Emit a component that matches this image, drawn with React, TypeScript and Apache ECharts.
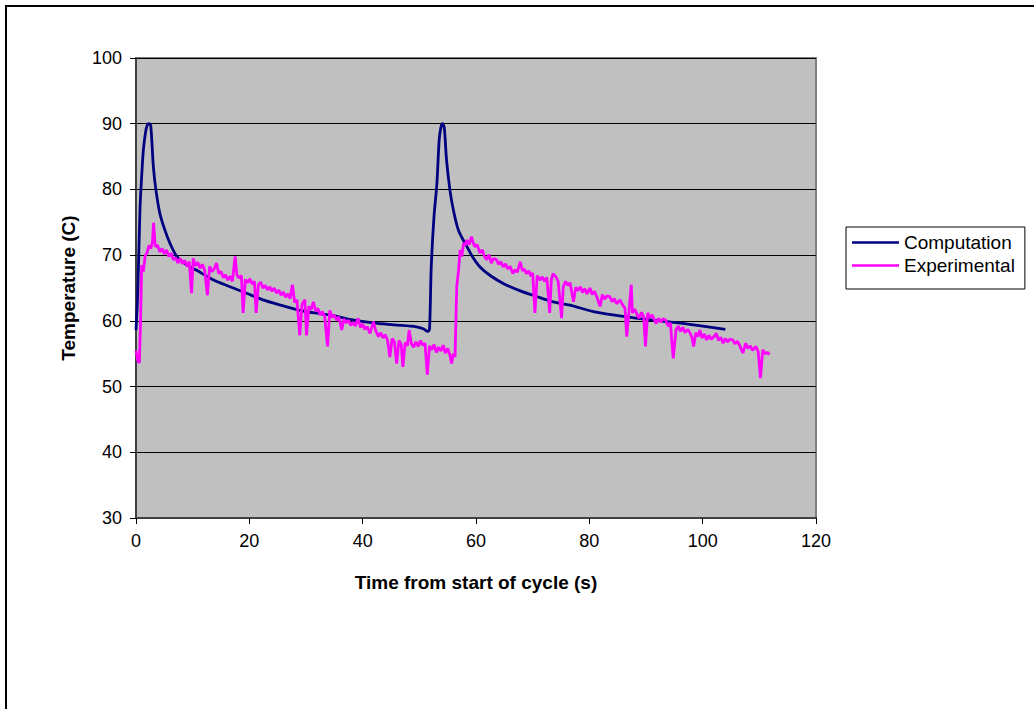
import React, { useEffect, useRef } from "react";
import * as echarts from "echarts";

const seriesNames = ["Computation", "Experimental"];
const xTicks = { min: 0, max: 120, interval: 20 };
const yTicks = { min: 30, max: 100, interval: 10 };

// Computation: [time (s), temperature (C)]
const computation: [number, number][] = [
  [0, 58.6], [0.3, 64], [0.7, 76.9], [1.0, 82], [1.3, 86], [1.7, 88.8], [2.0, 89.8],
  [2.3, 90.0], [2.6, 89.7], [3.06, 83.5], [3.5, 80], [4.2, 76.4], [5.1, 73.8], [6.0, 71.8],
  [7.2, 69.8], [8.8, 68.6], [10.7, 67.7], [13.5, 66.3], [16.6, 65.2], [19.5, 64.2],
  [22.4, 63.2], [25.5, 62.4], [28.9, 61.6], [31.5, 61.2], [34.2, 60.9], [38, 60.2],
  [41.8, 59.7], [45.5, 59.4], [49.5, 59.1], [50.7, 58.8], [51.5, 58.4], [51.8, 58.8],
  [52.1, 68.2], [52.6, 76], [53.1, 80.9], [53.5, 87.5], [53.8, 89.4], [54.1, 90],
  [54.4, 89.4], [54.8, 84.5], [55.4, 79.9], [56.0, 76.9], [56.9, 73.8], [58.4, 71.3],
  [59.5, 69.6], [60.7, 68.2], [62.5, 66.9], [64.8, 65.7], [67.7, 64.6], [70.7, 63.7],
  [73.6, 62.9], [76.6, 62.4], [80.7, 61.4], [86.6, 60.6], [92.5, 60.0], [98.4, 59.4],
  [104, 58.7],
];

// Experimental: [time (s), temperature (C)]
const experimental: [number, number][] = [
  [0.0, 55.5], [0.3, 54.0], [0.6, 53.6], [0.8, 60.0], [1.0, 68.5], [1.3, 67.5], [1.6, 69.8],
  [2.0, 70.5], [2.3, 71.5], [2.6, 71.0], [2.9, 72.0], [3.1, 74.9], [3.4, 71.3], [3.8, 71.5],
  [4.2, 70.5], [4.6, 71.0], [5.0, 70.2], [5.4, 70.8], [5.8, 69.8], [6.2, 70.3], [6.6, 69.3],
  [7.0, 69.6], [7.4, 68.8], [7.8, 69.5], [8.2, 68.7], [8.6, 69.2], [9.0, 68.3], [9.4, 69.0],
  [9.8, 64.2], [10.1, 69.5], [10.5, 68.4], [10.9, 68.9], [11.3, 68.0], [11.7, 68.6],
  [12.1, 67.8], [12.6, 63.9], [13.0, 68.3], [13.4, 67.5], [13.8, 67.9], [14.2, 68.8],
  [14.6, 67.2], [15.0, 67.5], [15.4, 66.6], [15.8, 67.0], [16.2, 66.2], [16.6, 66.8],
  [17.0, 66.0], [17.5, 69.8], [17.8, 67.0], [18.2, 66.5], [18.6, 66.9], [18.9, 61.2],
  [19.3, 66.3], [19.7, 65.8], [20.1, 66.4], [20.5, 65.6], [20.9, 66.0], [21.2, 61.2],
  [21.6, 65.5], [22.0, 65.9], [22.4, 65.0], [22.8, 65.4], [23.2, 64.7], [23.6, 65.2],
  [24.0, 64.5], [24.4, 65.0], [24.8, 64.2], [25.2, 64.7], [25.6, 63.9], [26.0, 64.4],
  [26.4, 63.6], [26.8, 64.1], [27.2, 63.4], [27.6, 65.5], [28.0, 62.8], [28.4, 63.2],
  [28.9, 57.8], [29.3, 62.5], [29.8, 63.2], [30.1, 57.8], [30.5, 62.2], [30.9, 61.7],
  [31.3, 62.9], [31.7, 61.5], [32.1, 61.9], [32.5, 60.9], [32.9, 61.4], [33.3, 60.7],
  [33.8, 56.1], [34.2, 61.6], [34.6, 60.5], [35.0, 60.9], [35.4, 60.1], [35.8, 60.6],
  [36.3, 58.6], [36.7, 60.3], [37.1, 59.7], [37.5, 60.1], [37.9, 59.3], [38.3, 59.8],
  [38.7, 59.2], [39.2, 60.4], [39.6, 59.0], [40.0, 59.5], [40.4, 58.7], [40.8, 59.1],
  [41.3, 58.1], [41.9, 59.9], [42.3, 58.5], [42.8, 57.6], [43.2, 58.2], [43.6, 57.4],
  [44.0, 57.9], [44.4, 57.0], [44.8, 54.5], [45.2, 57.3], [45.6, 56.8], [46.0, 53.5],
  [46.4, 57.0], [46.8, 56.4], [47.1, 53.0], [47.5, 56.7], [47.9, 56.2], [48.2, 58.6],
  [48.6, 56.5], [49.0, 56.0], [49.4, 56.8], [49.8, 56.1], [50.2, 57.0], [50.6, 56.3],
  [51.0, 56.6], [51.4, 51.8], [51.8, 56.2], [52.2, 55.6], [52.6, 56.4], [53.0, 55.2],
  [53.4, 56.0], [53.8, 55.4], [54.2, 56.3], [54.6, 55.1], [55.0, 55.8], [55.4, 54.8],
  [55.7, 53.5], [56.0, 55.0], [56.3, 54.5], [56.6, 65.2], [56.9, 67.5], [57.2, 70.8],
  [57.5, 69.8], [57.8, 71.8], [58.1, 71.5], [58.4, 72.3], [58.8, 71.6], [59.2, 72.8],
  [59.5, 71.9], [59.8, 71.3], [60.2, 71.6], [60.7, 70.3], [61.1, 70.8], [61.5, 69.8],
  [61.9, 69.3], [62.3, 70.1], [62.7, 68.8], [63.1, 69.5], [63.6, 69.3], [64.0, 68.6],
  [64.4, 69.0], [64.8, 68.2], [65.2, 68.7], [65.6, 67.9], [66.0, 68.3], [66.5, 67.2],
  [66.9, 67.8], [67.3, 67.4], [67.8, 69.0], [68.2, 67.6], [68.5, 67.9], [68.9, 67.2],
  [69.3, 67.6], [69.7, 66.8], [70.0, 67.3], [70.4, 61.2], [70.8, 66.9], [71.3, 66.2],
  [71.7, 66.7], [72.1, 66.0], [72.5, 66.6], [73.0, 61.2], [73.3, 66.3], [73.6, 67.2],
  [74.1, 66.7], [74.5, 66.0], [75.1, 60.4], [75.4, 65.2], [75.8, 66.0], [76.2, 65.4],
  [76.6, 65.8], [77.2, 62.9], [77.6, 65.1], [78.0, 64.6], [78.4, 65.2], [78.8, 64.3],
  [79.2, 64.9], [79.6, 64.1], [80.1, 65.0], [80.5, 64.0], [80.9, 64.5], [81.3, 63.7],
  [81.9, 62.2], [82.3, 64.0], [82.7, 63.3], [83.1, 63.8], [83.6, 63.7], [84.0, 62.9],
  [84.4, 63.4], [84.8, 62.6], [85.4, 63.2], [85.8, 62.5], [86.3, 61.9], [86.6, 57.6],
  [87.0, 61.5], [87.4, 65.5], [87.6, 61.2], [88.0, 61.8], [88.4, 61.0], [88.8, 60.4],
  [89.2, 61.3], [89.6, 60.6], [89.9, 56.1], [90.3, 61.2], [90.7, 60.5], [91.1, 60.9],
  [91.5, 60.1], [91.8, 59.6], [92.2, 60.4], [92.6, 59.8], [93.0, 60.3], [93.5, 60.1],
  [93.9, 59.2], [94.3, 59.7], [94.8, 54.3], [95.3, 58.6], [95.7, 59.2], [96.1, 58.4],
  [96.5, 59.0], [96.9, 58.2], [97.4, 58.7], [97.8, 58.1], [98.1, 57.5], [98.4, 56.1],
  [98.8, 58.2], [99.2, 57.6], [99.5, 58.6], [99.9, 57.4], [100.3, 58.0], [100.7, 57.1],
  [101.1, 57.8], [101.5, 57.2], [102.0, 57.6], [102.4, 58.1], [102.8, 57.0], [103.2, 57.5],
  [103.6, 56.6], [104.0, 57.3], [104.4, 56.8], [104.8, 57.2], [105.3, 57.1], [105.7, 56.5],
  [106.1, 56.9], [106.5, 56.3], [107.1, 55.1], [107.6, 56.6], [108.0, 55.8], [108.4, 56.2],
  [108.8, 55.5], [109.4, 56.1], [109.8, 55.3], [110.2, 51.3], [110.6, 55.6], [111.0, 55.0],
  [111.4, 55.2], [111.8, 54.9],
];

const FONT = "'Liberation Sans', Arial, Helvetica, sans-serif";

export default function App() {
  const ref = useRef<HTMLDivElement>(null);
  useEffect(() => {
    document.body.style.margin = "0";
    const chart = echarts.init(ref.current!, undefined, { renderer: "svg" });
    chart.setOption({
      animation: false,
      backgroundColor: "#ffffff",
      textStyle: { fontFamily: FONT, color: "#000" },
      graphic: [
        {
          type: "rect",
          shape: { x: 6, y: 6, width: 1200, height: 900 },
          style: { fill: "none", stroke: "#000", lineWidth: 2 },
          silent: true,
        },
      ],
      grid: {
        left: 136,
        top: 58,
        width: 680,
        height: 460,
        show: true,
        backgroundColor: "#C0C0C0",
        borderColor: "#808080",
        borderWidth: 2,
      },
      legend: {
        orient: "vertical",
        left: 846,
        top: 227,
        icon: "rect",
        itemWidth: 47,
        itemHeight: 2.5,
        itemGap: 4,
        padding: [6, 10, 14, 6],
        borderColor: "#000",
        borderWidth: 1,
        backgroundColor: "#fff",
        textStyle: { fontFamily: FONT, fontSize: 19, color: "#000", lineHeight: 19 },
        data: seriesNames,
      },
      xAxis: {
        type: "value",
        min: xTicks.min,
        max: xTicks.max,
        interval: xTicks.interval,
        name: "Time from start of cycle (s)",
        nameLocation: "middle",
        nameGap: 55,
        nameTextStyle: { fontFamily: FONT, fontSize: 19, fontWeight: "bold", color: "#000" },
        axisLine: { show: true, onZero: false, lineStyle: { color: "#404040", width: 2 } },
        axisTick: { show: true, length: 6, lineStyle: { color: "#000", width: 1 } },
        axisLabel: { fontFamily: FONT, fontSize: 18, color: "#000", margin: 14 },
        splitLine: { show: false },
      },
      yAxis: {
        type: "value",
        min: yTicks.min,
        max: yTicks.max,
        interval: yTicks.interval,
        name: "Temperature (C)",
        nameLocation: "middle",
        nameGap: 58,
        nameTextStyle: { fontFamily: FONT, fontSize: 19, fontWeight: "bold", color: "#000" },
        axisLine: { show: true, lineStyle: { color: "#404040", width: 2 } },
        axisTick: { show: true, length: 6, lineStyle: { color: "#000", width: 1 } },
        axisLabel: { fontFamily: FONT, fontSize: 18, color: "#000", margin: 14 },
        splitLine: { show: true, lineStyle: { color: "#000", width: 1 } },
      },
      series: [
        {
          name: seriesNames[0],
          type: "line",
          data: computation,
          symbol: "none",
          smooth: 0.3,
          lineStyle: { color: "#000080", width: 2.8 },
          itemStyle: { color: "#000080" },
        },
        {
          name: seriesNames[1],
          type: "line",
          data: experimental,
          symbol: "none",
          lineStyle: { color: "#FF00FF", width: 2.8 },
          itemStyle: { color: "#FF00FF" },
        },
      ],
    });
    return () => chart.dispose();
  }, []);
  return (
    <div
      ref={ref}
      style={{ position: "absolute", left: 0, top: 0, width: 1034, height: 709 }}
    />
  );
}
